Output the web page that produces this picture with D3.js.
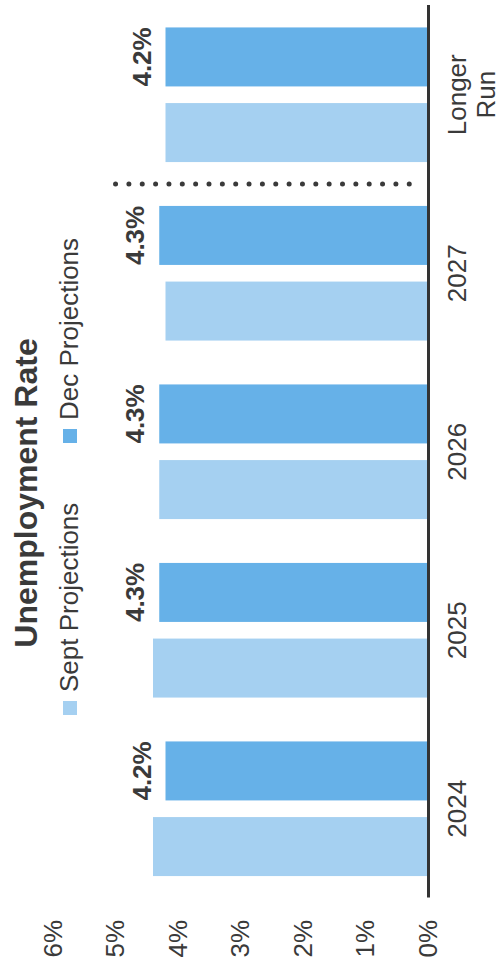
<!DOCTYPE html>
<html>
<head>
<meta charset="utf-8">
<script src="https://cdn.jsdelivr.net/npm/d3@7"></script>
<style>
  body { margin: 0; background: #fff; }
  svg text { font-family: "Liberation Sans", Arial, sans-serif; fill: #3a3a3a; }
</style>
</head>
<body>
<div id="chart"></div>
<script>
// chart data
var categories = ["2024", "2025", "2026", "2027", "Longer Run"];
var series = ["Sept Projections", "Dec Projections"];
var septValues = [4.4, 4.4, 4.3, 4.2, 4.2];
var decValues = [4.2, 4.3, 4.3, 4.3, 4.2];
var yTicks = [0, 1, 2, 3, 4, 5, 6];
var colors = ["#a5d0f1", "#66b1e8"];

var W = 503, H = 969;

// the whole chart is drawn sideways, so we work in a 969 x 503 frame and rotate it
var svg = d3.select("#chart").append("svg")
  .attr("width", W)
  .attr("height", H);

var g = svg.append("g")
  .attr("transform", "translate(0," + H + ") rotate(-90)");

var x0 = d3.scaleBand()
  .domain(categories)
  .range([71, 963.5])
  .padding(0);

var x1 = d3.scaleBand()
  .domain(series)
  .range([0, x0.bandwidth()])
  .paddingInner(0.22)
  .paddingOuter(0.29);

var y = d3.scaleLinear()
  .domain([0, 6])
  .range([428, 53]);

var rows = categories.map(function(c, i) {
  return {cat: c, values: [septValues[i], decValues[i]]};
});

// title
g.append("text")
  .attr("x", 476)
  .attr("y", 37)
  .attr("text-anchor", "middle")
  .style("font-size", "32px")
  .style("font-weight", "bold")
  .text("Unemployment Rate");

// legend
var legend = g.selectAll(".legend")
  .data(series)
  .enter()
  .append("g")
    .attr("transform", function(d, i){ return "translate(" + [254, 526][i] + ",63)" });

legend.append("rect")
  .attr("width", 14)
  .attr("height", 14)
  .style("fill", function(d, i){ return colors[i] });

legend.append("text")
  .attr("x", 23)
  .attr("y", 15)
  .style("font-size", "26px")
  .text(function(d){ return d });

// value axis (labels only)
var yAxis = g.append("g")
  .attr("transform", "translate(49,0)")
  .call(d3.axisLeft(y).tickValues(yTicks).tickSize(0).tickPadding(0)
    .tickFormat(function(d){ return d + "%" }));
yAxis.select(".domain").remove();
yAxis.selectAll("text")
  .style("font-size", "26px")
  .style("font-family", null)
  .attr("fill", null);

// bars
var groups = g.selectAll(".grp")
  .data(rows)
  .enter()
  .append("g")
    .attr("transform", function(d){ return "translate(" + x0(d.cat) + ",0)" });

groups.selectAll("rect")
  .data(function(d){ return d.values.map(function(v, i){ return {s: series[i], v: v, i: i} }) })
  .enter()
  .append("rect")
    .attr("x", function(d){ return x1(d.s) })
    .attr("width", x1.bandwidth())
    .attr("y", function(d){ return y(d.v) })
    .attr("height", function(d){ return y(0) - y(d.v) })
    .style("fill", function(d){ return colors[d.i] });

// value labels on the Dec bars
groups.append("text")
  .attr("x", function(d){ return x1(series[1]) + x1.bandwidth() / 2 })
  .attr("y", function(d){ return y(d.values[1]) - 15 })
  .attr("text-anchor", "middle")
  .style("font-size", "26px")
  .style("font-weight", "bold")
  .text(function(d){ return d.values[1].toFixed(1) + "%" });

// dotted separator between projections and longer run
g.append("line")
  .attr("x1", x0("Longer Run"))
  .attr("x2", x0("Longer Run"))
  .attr("y1", y(0.3))
  .attr("y2", y(5.01))
  .attr("stroke", "#3a3a3a")
  .attr("stroke-width", 5)
  .attr("stroke-linecap", "round")
  .attr("stroke-dasharray", "0,13.35");

// category axis
var xAxis = g.append("g")
  .attr("transform", "translate(0," + y(0) + ")")
  .call(d3.axisBottom(x0).tickSize(0).tickPadding(20).tickSizeOuter(0));
xAxis.select(".domain")
  .attr("stroke", "#333")
  .attr("stroke-width", 3);
xAxis.selectAll("text")
  .style("font-size", "26px")
  .style("font-family", null)
  .attr("fill", null)
  .each(function(d){
    var words = d.split(" ");
    if (words.length > 1) {
      var t = d3.select(this).text(null);
      words.forEach(function(w, i){
        t.append("tspan")
          .attr("x", 0)
          .attr("dy", i == 0 ? "0.71em" : "1.1em")
          .text(w);
      });
      t.attr("dy", null);
    }
  });
</script>
</body>
</html>
